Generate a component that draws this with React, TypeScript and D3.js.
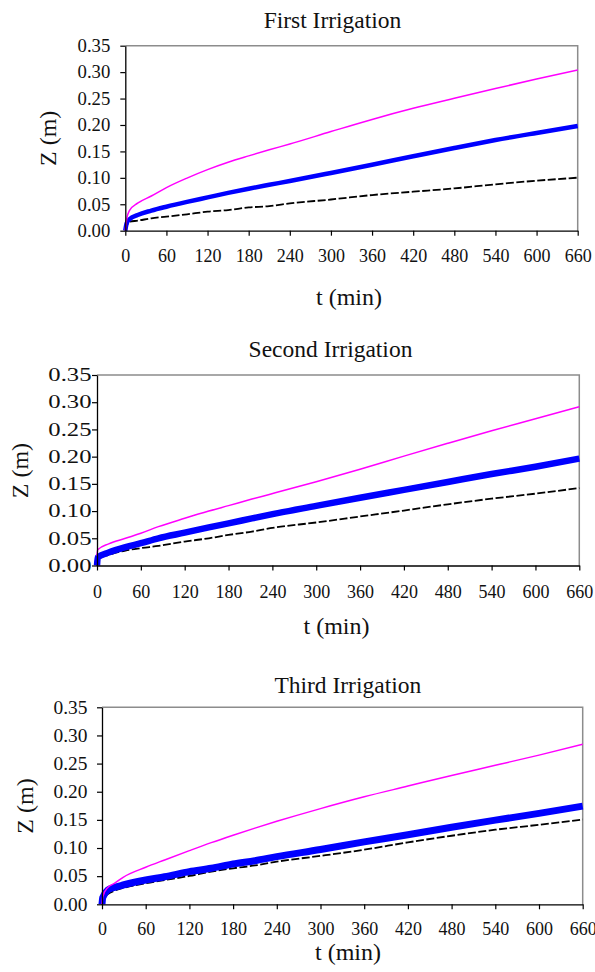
import React, { useEffect, useRef } from "react";
import * as d3 from "d3";

const FONT = "'Liberation Serif', 'Times New Roman', serif";

const xTicks = [0, 60, 120, 180, 240, 300, 360, 420, 480, 540, 600, 660];
const yTicks = [0, 0.05, 0.1, 0.15, 0.2, 0.25, 0.3, 0.35];
const titles = ["First Irrigation", "Second Irrigation", "Third Irrigation"];

// first irrigation
const t1 = [0, 2, 6, 18, 38, 60, 90, 120, 150, 180, 210, 240, 300, 360, 420, 480, 540, 600, 660];
const z1Magenta = [0, 0.022, 0.038, 0.052, 0.0656, 0.0815, 0.0995, 0.1155, 0.1295, 0.1415, 0.153, 0.164, 0.1875, 0.2105, 0.2315, 0.2505, 0.269, 0.287, 0.304];
const z1Blue = [0, 0.014, 0.0215, 0.0297, 0.038, 0.0454, 0.0545, 0.063, 0.0715, 0.0795, 0.0868, 0.094, 0.1092, 0.1248, 0.1408, 0.1565, 0.1715, 0.185, 0.198];
const z1Black = [0, 0.008, 0.017, 0.019, 0.0235, 0.0265, 0.031, 0.036, 0.039, 0.044, 0.0465, 0.0517, 0.059, 0.0675, 0.0738, 0.08, 0.0878, 0.0946, 0.1003];

// second irrigation
const t2 = [0, 1, 16, 39, 60, 84, 120, 153, 180, 212, 237, 300, 360, 420, 480, 540, 600, 660];
const z2Magenta = [0.018, 0.0288, 0.0397, 0.05, 0.0592, 0.0714, 0.0867, 0.1, 0.11, 0.122, 0.131, 0.154, 0.177, 0.201, 0.2245, 0.2475, 0.2695, 0.2916];
const z2Blue = [0, 0.015, 0.0238, 0.0337, 0.041, 0.05, 0.0604, 0.07, 0.0775, 0.0865, 0.0935, 0.1095, 0.1245, 0.139, 0.1535, 0.168, 0.1815, 0.1965];
const z2Black = [0, 0.012, 0.0196, 0.0275, 0.0319, 0.036, 0.044, 0.05, 0.0562, 0.0623, 0.0685, 0.079, 0.09, 0.101, 0.1124, 0.1228, 0.132, 0.1424];

// third irrigation
const t3 = [0, 1, 8, 17, 29, 60, 86, 120, 150, 180, 210, 240, 300, 360, 420, 480, 540, 600, 660];
const z3Magenta = [0, 0.0135, 0.03, 0.037, 0.048, 0.0658, 0.0788, 0.0954, 0.1096, 0.1228, 0.1354, 0.1474, 0.17, 0.191, 0.21, 0.229, 0.247, 0.265, 0.2842];
const z3Blue = [0, 0.012, 0.0254, 0.03, 0.0343, 0.0432, 0.049, 0.058, 0.064, 0.0717, 0.0775, 0.0847, 0.0973, 0.111, 0.1235, 0.137, 0.1495, 0.1615, 0.1744];
const z3Black = [0, 0.008, 0.018, 0.024, 0.029, 0.0374, 0.043, 0.0504, 0.058, 0.064, 0.069, 0.0758, 0.086, 0.097, 0.11, 0.1218, 0.1325, 0.1413, 0.1507];

// plot boxes measured off the page
const layouts = [
  { left: 125.3, right: 577.7, top: 45.7, bottom: 230.7, blueW: 4.5, stretch: 1.04, yPad: 10, xPad: 14,
    title: [332.5, 27.5], xTitle: [349, 304.5], yTitle: [55.6, 138.3] },
  { left: 97, right: 579.3, top: 375, bottom: 565.5, blueW: 6.5, stretch: 1.37, yPad: 0.5, xPad: 15,
    title: [330.5, 356.7], xTitle: [336.5, 634], yTitle: [28, 470.6] },
  { left: 102, right: 582.7, top: 707.3, bottom: 904.3, blueW: 7, stretch: 1.08, yPad: 9.5, xPad: 13,
    title: [347.8, 693.3], xTitle: [348, 959.5], yTitle: [33, 806] },
];

const panelData = [
  { t: t1, magenta: z1Magenta, blue: z1Blue, black: z1Black },
  { t: t2, magenta: z2Magenta, blue: z2Blue, black: z2Black },
  { t: t3, magenta: z3Magenta, blue: z3Blue, black: z3Black },
];

const AxisLeft = ({ scale, x, stretch, pad }) => {
  const ref = useRef(null);
  useEffect(() => {
    const g = d3.select(ref.current);
    g.call(
      d3.axisLeft(scale).tickValues(yTicks).tickFormat(d3.format(".2f"))
        .tickSize(5).tickSizeOuter(0).tickPadding(pad)
    );
    g.select(".domain").attr("stroke", "#000").attr("stroke-width", 1.3);
    g.selectAll(".tick line").attr("stroke", "#000").attr("stroke-width", 1.2);
    g.selectAll(".tick text")
      .attr("font-family", FONT).attr("font-size", 18).attr("fill", "#111")
      .attr("x", -(5 + pad) / stretch)
      .attr("transform", `scale(${stretch},1)`);
  }, [scale]);
  return <g ref={ref} transform={`translate(${x},0)`} />;
};

const AxisBottom = ({ scale, y, pad }) => {
  const ref = useRef(null);
  useEffect(() => {
    const g = d3.select(ref.current);
    g.call(d3.axisBottom(scale).tickValues(xTicks).tickSize(5).tickSizeOuter(0).tickPadding(pad));
    g.select(".domain").attr("stroke", "#000").attr("stroke-width", 1.3);
    g.selectAll(".tick line").attr("stroke", "#000").attr("stroke-width", 1.2);
    g.selectAll(".tick text").attr("font-family", FONT).attr("font-size", 18).attr("fill", "#111");
  }, [scale]);
  return <g ref={ref} transform={`translate(0,${y})`} />;
};

const Panel = ({ layout, data, title }) => {
  const x = d3.scaleLinear().domain([0, 660]).range([layout.left, layout.right]);
  const y = d3.scaleLinear().domain([0, 0.35]).range([layout.bottom, layout.top]);
  const line = (vals) =>
    d3.line<number>()
      .x((_, i) => x(data.t[i]))
      .y((v) => y(v))
      .curve(d3.curveMonotoneX)(vals);

  return (
    <g>
      <text x={layout.title[0]} y={layout.title[1]} textAnchor="middle"
        fontFamily={FONT} fontSize={23.5} fill="#111">{title}</text>
      {/* gray frame on top and right */}
      <path d={`M${layout.left},${layout.top}H${layout.right}V${layout.bottom}`}
        fill="none" stroke="#8c8c8c" strokeWidth={1.5} />
      <path d={line(data.black)} fill="none" stroke="#000" strokeWidth={1.8} strokeDasharray="8,2.5" />
      <path d={line(data.blue)} fill="none" stroke="#0000ff" strokeWidth={layout.blueW} />
      <path d={line(data.magenta)} fill="none" stroke="#ff00ff" strokeWidth={1.5} />
      <AxisLeft scale={y} x={layout.left} stretch={layout.stretch} pad={layout.yPad} />
      <AxisBottom scale={x} y={layout.bottom} pad={layout.xPad} />
      <text x={layout.xTitle[0]} y={layout.xTitle[1]} textAnchor="middle"
        fontFamily={FONT} fontSize={24} fill="#111">t (min)</text>
      <text transform={`translate(${layout.yTitle[0]},${layout.yTitle[1]}) rotate(-90)`}
        textAnchor="middle" fontFamily={FONT} fontSize={24} fill="#111">Z (m)</text>
    </g>
  );
};

export default function App() {
  return (
    <svg width={595} height={972}
      style={{ position: "absolute", left: 0, top: 0, background: "#fff" }}>
      {layouts.map((layout, i) => (
        <Panel key={titles[i]} layout={layout} data={panelData[i]} title={titles[i]} />
      ))}
    </svg>
  );
}
